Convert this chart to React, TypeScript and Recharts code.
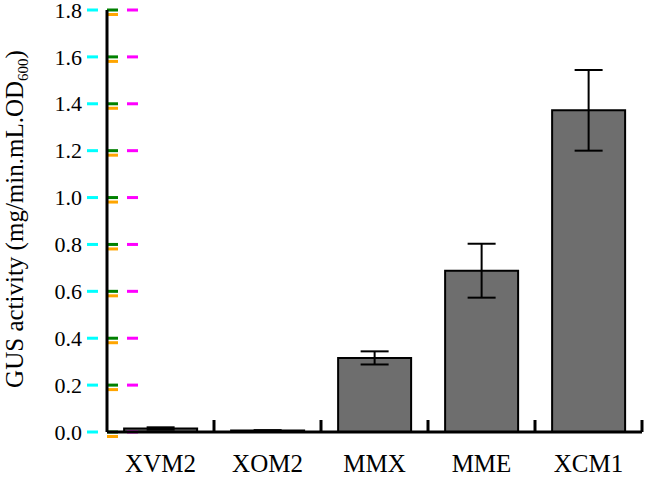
import React from "react";
import { BarChart, Bar, XAxis, YAxis, ErrorBar, ReferenceLine } from "recharts";

const categories = ["XVM2", "XOM2", "MMX", "MME", "XCM1"];
const activity = [0.015, 0.006, 0.316, 0.688, 1.372];
const errors = [0.005, 0.002, 0.028, 0.115, 0.172];
const yTicks = [0, 0.2, 0.4, 0.6, 0.8, 1.0, 1.2, 1.4, 1.6, 1.8];

const data = categories.map((c, i) => ({ name: c, value: activity[i], err: errors[i] }));

const W = 645;
const H = 478;
const MARGIN = { top: 10, right: 3, bottom: 0, left: 0 };
const Y_AXIS_W = 107;
const X_AXIS_H = 46;
const BAND = (W - MARGIN.left - MARGIN.right - Y_AXIS_W) / categories.length;
const FONT = "'Liberation Serif', 'Times New Roman', serif";

const YTick = (props: any) => {
  const x = Number(props.x);
  const y = Number(props.y);
  const { payload } = props;
  return (
    <text x={x} y={y} dy="0.35em" textAnchor="end" fontFamily={FONT} fontSize={22} fill="#000">
      {Number(payload.value).toFixed(1)}
    </text>
  );
};

const XTick = (props: any) => {
  const x = Number(props.x);
  const y = Number(props.y);
  const { payload } = props;
  const bx = x + BAND / 2;
  return (
    <g>
      <path d={`M${bx},${y}V${y - 12}`} stroke="#000" strokeWidth={3} fill="none" />
      <text x={x} y={y + 40} textAnchor="middle" fontFamily={FONT} fontSize={25} fill="#000">
        {payload.value}
      </text>
    </g>
  );
};

const TickShape = (props: any) => {
  const x1 = Number(props.x1);
  const y1 = Number(props.y1);
  return (
    <g>
      <rect x={x1} y={y1 - 1.5} width={11} height={3} fill="green" />
      <rect x={x1 + 20} y={y1 - 1.5} width={11} height={3} fill="magenta" />
      <rect x={x1} y={y1 + 3} width={11} height={3} fill="orange" />
      <rect x={x1 - 20} y={y1 - 1.5} width={11} height={3} fill="cyan" />
    </g>
  );
};

const YLabel = (props: any) => {
  const vb = props.viewBox || { x: 0, y: 10, width: 107, height: 422 };
  const cx = vb.x + 23;
  const cy = vb.y + vb.height / 2 - 2;
  return (
    <text
      x={cx}
      y={cy}
      transform={`rotate(-90, ${cx}, ${cy})`}
      textAnchor="middle"
      fontFamily={FONT}
      fontSize={25}
      fill="#000"
    >
      GUS activity (mg/min.mL.OD
      <tspan fontSize={15} dy={5}>600</tspan>
      <tspan dy={-5}>)</tspan>
    </text>
  );
};

export default function App() {
  return (
    <div style={{ position: "absolute", left: 0, top: 0, background: "#fff" }}>
      <BarChart width={W} height={H} data={data} margin={MARGIN} barCategoryGap="16%">
        <XAxis
          dataKey="name"
          height={X_AXIS_H}
          tickSize={0}
          tickMargin={0}
          tickLine={false}
          axisLine={{ stroke: "#000", strokeWidth: 3 }}
          tick={(p: any) => <XTick {...p} />}
          interval={0}
        />
        <YAxis
          width={Y_AXIS_W}
          domain={[0, 1.8]}
          ticks={yTicks}
          tickSize={0}
          tickMargin={25}
          tickLine={false}
          axisLine={{ stroke: "#000", strokeWidth: 3 }}
          tick={(p: any) => <YTick {...p} />}
          interval={0}
          label={{ content: <YLabel /> }}
        />
        <Bar dataKey="value" fill="#6e6e6e" stroke="#000" strokeWidth={2} isAnimationActive={false}>
          <ErrorBar dataKey="err" width={14} stroke="#000" strokeWidth={2} isAnimationActive={false} />
        </Bar>
        {yTicks.map((t) => (
          <ReferenceLine
            key={t}
            y={t}
            ifOverflow="visible"
            shape={(p: any) => <TickShape {...p} />}
          />
        ))}
      </BarChart>
    </div>
  );
}
